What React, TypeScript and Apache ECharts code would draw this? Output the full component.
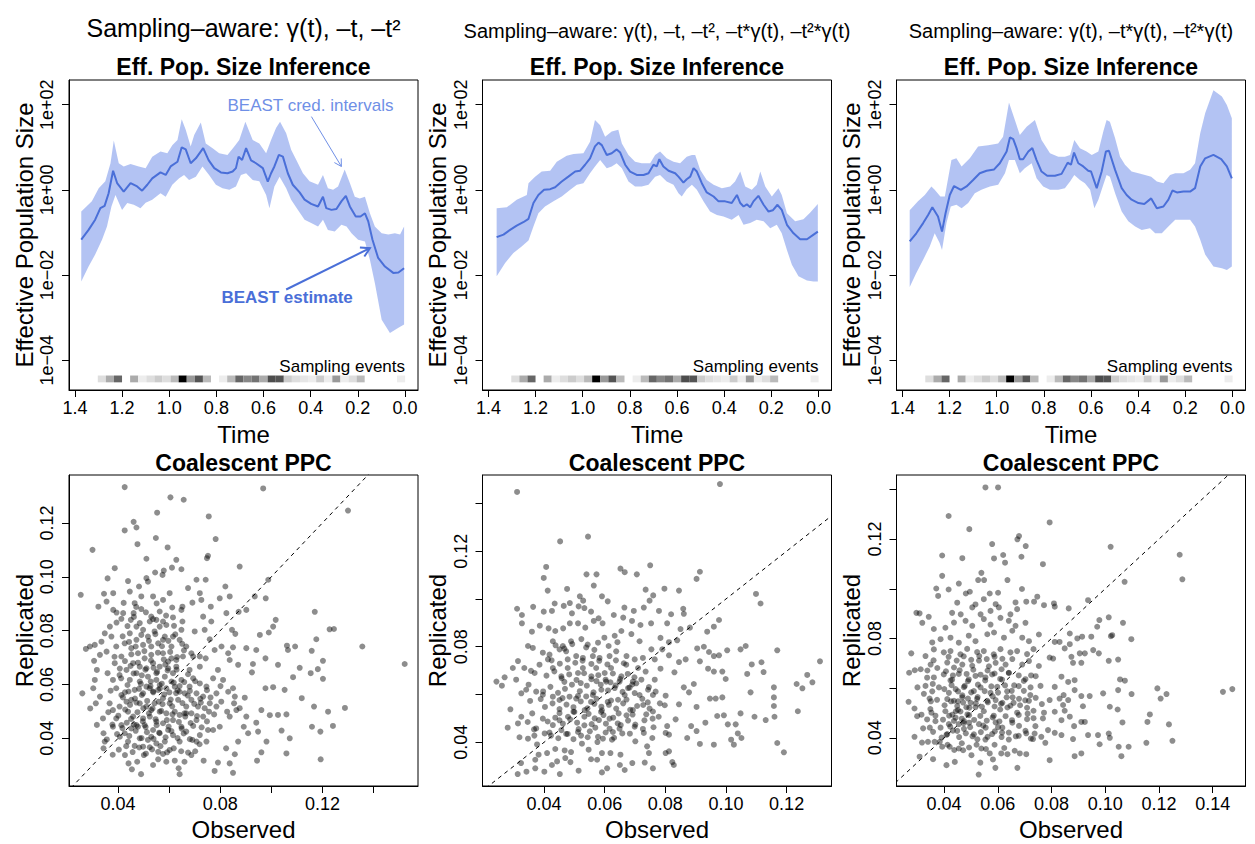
import React, { useEffect, useRef } from 'react';
import * as echarts from 'echarts';

const FONT = '"Liberation Sans", Arial, Helvetica, sans-serif';
const BLUE = '#4A6FD8';
const BAND = 'rgba(65,105,225,0.40)';
const CRED_BLUE = '#6F8FE6';

// ---------- Top row: effective population size (time, log10 Ne) ----------
const TIME_TICKS = [0, 0.2, 0.4, 0.6, 0.8, 1.0, 1.2, 1.4];
const NE_TICKS = [-4, -2, 0, 2]; // log10 values: 1e-04 .. 1e+02

const median1 = [[1.373,-1.17],[1.342,-0.94],[1.314,-0.70],[1.292,-0.43],[1.274,-0.375],[1.257,-0.08],[1.238,0.45],[1.221,0.16],[1.193,-0.04],[1.164,0.16],[1.136,0.08],[1.115,-0.02],[1.093,0.12],[1.072,0.27],[1.037,0.41],[1.015,0.35],[0.994,0.55],[0.965,0.66],[0.947,1.0],[0.930,0.95],[0.909,0.625],[0.887,0.74],[0.856,0.98],[0.833,0.70],[0.809,0.51],[0.781,0.41],[0.753,0.39],[0.731,0.43],[0.717,0.51],[0.706,0.78],[0.691,0.70],[0.674,0.98],[0.653,0.69],[0.632,0.625],[0.603,0.51],[0.582,0.195],[0.568,0.39],[0.554,0.55],[0.535,0.82],[0.518,0.78],[0.497,0.39],[0.476,0.12],[0.447,-0.06],[0.426,-0.23],[0.398,-0.33],[0.369,-0.39],[0.348,-0.16],[0.334,-0.43],[0.312,-0.47],[0.291,-0.45],[0.270,-0.27],[0.251,-0.14],[0.234,-0.39],[0.209,-0.625],[0.189,-0.625],[0.170,-0.55],[0.156,-0.74],[0.138,-1.17],[0.114,-1.60],[0.085,-1.80],[0.050,-1.95],[0.028,-1.94],[0.004,-1.84]];
const upper1 = [[1.373,-0.51],[1.328,-0.27],[1.299,0.04],[1.271,0.20],[1.249,0.625],[1.235,1.16],[1.214,0.625],[1.193,0.55],[1.164,0.61],[1.129,0.55],[1.100,0.51],[1.072,0.78],[1.037,0.90],[1.008,0.86],[0.987,1.05],[0.965,1.17],[0.947,1.66],[0.930,1.41],[0.909,1.02],[0.894,1.29],[0.866,1.58],[0.845,1.09],[0.816,0.98],[0.788,0.86],[0.753,0.82],[0.724,1.02],[0.703,1.17],[0.677,1.60],[0.646,1.17],[0.618,1.09],[0.589,0.86],[0.568,1.17],[0.547,1.45],[0.530,1.60],[0.504,1.33],[0.483,0.94],[0.461,0.70],[0.433,0.39],[0.405,0.20],[0.369,0.12],[0.348,0.35],[0.327,0.04],[0.305,0.0],[0.284,0.08],[0.256,0.48],[0.234,0.16],[0.213,-0.16],[0.192,-0.20],[0.170,-0.16],[0.149,-0.55],[0.128,-0.86],[0.099,-1.02],[0.071,-1.05],[0.043,-1.02],[0.021,-1.05],[0.004,-0.86]];
const lower1 = [[1.373,-2.15],[1.342,-1.80],[1.314,-1.52],[1.285,-1.17],[1.264,-0.86],[1.245,-0.39],[1.228,-0.12],[1.200,-0.47],[1.178,-0.31],[1.150,-0.35],[1.122,-0.43],[1.100,-0.30],[1.072,-0.23],[1.037,-0.08],[1.015,-0.16],[0.987,0.12],[0.958,0.27],[0.937,0.35],[0.916,0.23],[0.887,0.31],[0.859,0.55],[0.831,0.35],[0.802,0.12],[0.774,0.04],[0.745,0.0],[0.717,0.08],[0.696,0.35],[0.674,0.39],[0.646,0.23],[0.618,0.20],[0.589,-0.12],[0.575,-0.43],[0.554,0.08],[0.532,0.31],[0.504,0.04],[0.483,-0.23],[0.454,-0.47],[0.426,-0.70],[0.398,-0.78],[0.369,-0.86],[0.348,-0.70],[0.327,-0.94],[0.298,-0.98],[0.270,-0.82],[0.248,-0.86],[0.227,-1.02],[0.199,-1.17],[0.170,-1.21],[0.149,-1.64],[0.128,-2.19],[0.099,-3.05],[0.064,-3.36],[0.028,-3.24],[0.004,-3.16]];

const median2 = [[1.365,-1.11],[1.336,-1.05],[1.308,-0.94],[1.280,-0.84],[1.252,-0.76],[1.230,-0.68],[1.209,-0.31],[1.188,-0.12],[1.164,0.0],[1.138,0.016],[1.117,0.06],[1.089,0.195],[1.061,0.31],[1.032,0.43],[1.011,0.45],[0.990,0.59],[0.969,0.74],[0.948,1.02],[0.933,1.11],[0.919,1.05],[0.898,0.82],[0.877,0.86],[0.856,0.95],[0.841,0.875],[0.820,0.59],[0.799,0.43],[0.771,0.35],[0.742,0.35],[0.721,0.39],[0.700,0.59],[0.686,0.55],[0.675,0.72],[0.658,0.55],[0.636,0.45],[0.608,0.39],[0.594,0.31],[0.573,0.17],[0.559,0.25],[0.544,0.31],[0.530,0.51],[0.516,0.43],[0.495,0.156],[0.474,-0.06],[0.445,-0.156],[0.424,-0.27],[0.396,-0.27],[0.368,-0.31],[0.346,-0.12],[0.332,-0.31],[0.318,-0.39],[0.304,-0.34],[0.290,-0.41],[0.276,-0.27],[0.255,-0.14],[0.233,-0.35],[0.212,-0.51],[0.194,-0.48],[0.174,-0.35],[0.156,-0.47],[0.134,-0.82],[0.106,-1.02],[0.078,-1.16],[0.049,-1.16],[0.021,-1.05],[0.003,-0.98]];
const upper2 = [[1.365,-0.43],[1.322,-0.41],[1.280,-0.23],[1.237,-0.12],[1.230,0.156],[1.202,0.31],[1.174,0.43],[1.138,0.45],[1.110,0.66],[1.068,0.80],[1.039,0.84],[0.997,0.86],[0.969,1.13],[0.948,1.64],[0.926,1.52],[0.905,1.25],[0.877,1.37],[0.849,1.41],[0.834,1.09],[0.806,0.82],[0.778,0.66],[0.750,0.625],[0.714,0.625],[0.693,0.82],[0.672,0.90],[0.644,0.74],[0.615,0.66],[0.587,0.625],[0.559,0.78],[0.537,0.82],[0.523,0.82],[0.502,0.47],[0.474,0.23],[0.445,0.12],[0.410,0.04],[0.375,0.08],[0.354,0.195],[0.332,0.43],[0.311,0.08],[0.283,0.0],[0.262,0.12],[0.247,0.43],[0.226,0.08],[0.198,-0.156],[0.170,0.04],[0.156,-0.12],[0.134,-0.55],[0.099,-0.74],[0.064,-0.69],[0.035,-0.53],[0.003,-0.33]];
const lower2 = [[1.365,-2.03],[1.329,-1.72],[1.294,-1.48],[1.259,-1.33],[1.230,-1.19],[1.209,-0.86],[1.188,-0.55],[1.160,-0.39],[1.124,-0.27],[1.089,-0.156],[1.053,0.0],[1.025,0.12],[0.997,0.156],[0.969,0.39],[0.948,0.55],[0.926,0.70],[0.898,0.51],[0.877,0.55],[0.856,0.625],[0.834,0.51],[0.806,0.195],[0.778,0.08],[0.750,0.08],[0.721,0.12],[0.693,0.31],[0.672,0.35],[0.644,0.195],[0.615,0.12],[0.594,-0.08],[0.580,-0.156],[0.559,0.016],[0.537,0.12],[0.516,0.0],[0.488,-0.27],[0.460,-0.51],[0.431,-0.59],[0.403,-0.625],[0.368,-0.70],[0.339,-0.59],[0.318,-0.82],[0.290,-0.78],[0.262,-0.70],[0.233,-0.74],[0.205,-0.90],[0.177,-0.82],[0.156,-1.02],[0.134,-1.41],[0.113,-1.76],[0.085,-2.03],[0.049,-2.13],[0.021,-2.15],[0.003,-2.15]];

const median3 = [[1.369,-1.21],[1.341,-1.02],[1.312,-0.78],[1.291,-0.59],[1.273,-0.41],[1.249,-0.625],[1.232,-0.98],[1.217,-0.55],[1.199,-0.12],[1.181,0.09],[1.152,0.0],[1.128,0.08],[1.100,0.23],[1.072,0.39],[1.043,0.45],[1.011,0.48],[0.987,0.625],[0.958,0.90],[0.944,1.23],[0.930,1.19],[0.916,0.98],[0.902,0.72],[0.888,0.72],[0.866,0.90],[0.849,0.98],[0.831,0.70],[0.810,0.43],[0.786,0.33],[0.753,0.33],[0.725,0.375],[0.699,0.64],[0.685,0.59],[0.672,0.875],[0.654,0.625],[0.633,0.55],[0.612,0.45],[0.600,0.43],[0.576,0.04],[0.555,0.43],[0.537,0.90],[0.524,0.92],[0.498,0.47],[0.470,0.04],[0.449,-0.12],[0.428,-0.23],[0.399,-0.31],[0.374,-0.33],[0.345,-0.20],[0.321,-0.43],[0.293,-0.39],[0.272,-0.23],[0.255,-0.016],[0.236,-0.06],[0.208,-0.04],[0.180,-0.04],[0.159,0.04],[0.137,0.55],[0.116,0.74],[0.081,0.82],[0.048,0.72],[0.024,0.55],[0.003,0.27]];
const upper3 = [[1.369,-0.48],[1.334,-0.27],[1.305,-0.12],[1.277,0.08],[1.263,0.0],[1.239,-0.156],[1.220,-0.156],[1.192,0.70],[1.171,0.74],[1.149,0.55],[1.114,0.74],[1.079,1.02],[1.036,1.05],[0.994,1.09],[0.973,1.25],[0.948,2.05],[0.923,1.64],[0.902,1.29],[0.873,1.48],[0.838,1.64],[0.810,1.17],[0.774,0.86],[0.739,0.78],[0.711,0.78],[0.689,0.82],[0.671,1.17],[0.647,0.98],[0.619,0.90],[0.597,0.82],[0.569,0.90],[0.548,1.37],[0.534,1.64],[0.520,1.60],[0.498,1.21],[0.477,0.78],[0.456,0.59],[0.428,0.43],[0.399,0.39],[0.371,0.35],[0.345,0.31],[0.321,0.195],[0.293,0.156],[0.265,0.35],[0.243,0.39],[0.208,0.39],[0.180,0.47],[0.159,0.625],[0.137,1.33],[0.116,1.80],[0.081,2.34],[0.045,2.19],[0.024,1.99],[0.003,1.68]];
const lower3 = [[1.369,-2.28],[1.341,-1.95],[1.312,-1.64],[1.284,-1.33],[1.263,-1.02],[1.242,-1.25],[1.232,-1.41],[1.213,-0.78],[1.195,-0.39],[1.171,-0.35],[1.149,-0.43],[1.121,-0.31],[1.093,-0.08],[1.065,0.0],[1.029,0.08],[0.994,0.12],[0.965,0.39],[0.948,0.70],[0.923,0.70],[0.902,0.39],[0.881,0.51],[0.852,0.625],[0.831,0.27],[0.803,0.08],[0.774,0.0],[0.739,0.0],[0.711,0.04],[0.689,0.195],[0.671,0.35],[0.647,0.23],[0.626,0.156],[0.604,0.0],[0.586,-0.43],[0.569,-0.23],[0.548,0.12],[0.534,0.35],[0.520,0.31],[0.498,-0.08],[0.470,-0.51],[0.442,-0.74],[0.413,-0.86],[0.385,-0.94],[0.350,-0.90],[0.328,-1.02],[0.300,-1.02],[0.272,-0.86],[0.243,-0.70],[0.208,-0.70],[0.180,-0.70],[0.159,-0.86],[0.137,-1.17],[0.116,-1.52],[0.081,-1.80],[0.045,-1.84],[0.024,-1.88],[0.003,-1.80]];

// Sampling events: darkness (0 = none, 1 = most) of each time bin, from oldest (t = 1.303) to t = 0
const SAMPLING_START = 1.303;
const SAMPLING_STEP = 0.0343;
const samplingDensity = [0.13,0.33,0.6,0,0.33,0.07,0.13,0.2,0.13,0.27,1.0,0.4,0.67,0.27,0,0.07,0.27,0.6,0.47,0.55,0.33,0.7,0.67,0.2,0.13,0.1,0.07,0.2,0.07,0.4,0.07,0.13,0.27,0,0,0,0,0.07];
const STRIP_TOP = -4.36;
const STRIP_BOTTOM = -4.52;

// Annotations (panel 1), in (time, log10 Ne)
const credLabel = [0.401, 1.97];
const credArrow = [[0.397, 1.72], [0.27, 0.55]];
const estLabel = [0.50, -2.53];
const estArrow = [[0.504, -2.34], [0.149, -1.37]];

// ---------- Bottom row: coalescent posterior predictive check (observed, replicated) ----------
const ppc1 = [[.0426,.1333],[.0968,.1328],[.0605,.1295],[.0657,.1286],[.130,.1246],[.0553,.1238],[.0755,.1224],[.0461,.1204],[.0426,.1172],[.0472,.1183],[.030,.110],[.0548,.1144],[.0782,.114],[.0476,.1121],[.0594,.1109],[.0748,.1069],[.0752,.1078],[.0876,.1038],[.0511,.1067],[.0628,.1063],[.0387,.1032],[.0611,.1034],[.0648,.1028],[.0579,.1023],[.0545,.1016],[.0359,.0994],[.0511,.0995],[.0574,.1007],[.0988,.0989],[.0254,.0933],[.0439,.0984],[.0482,.0964],[.0674,.0958],[.0707,.0989],[.0743,.0989],[.082,.0964],[.0935,.0927],[.0978,.092],[.0902,.0877],[.0872,.087],[.0837,.0927],[.0798,.092],[.0824,.0865],[.0763,.0889],[.0726,.0914],[.072,.0939],[.0691,.0904],[.0652,.0889],[.1017,.084],[.1007,.0815],[.099,.0793],[.0955,.0784],[.0846,.0803],[.0859,.0788],[.117,.087],[.1228,.0805],[.1245,.0806],[.1176,.0768],[.1356,.0741],[.1061,.0744],[.1093,.0741],[.1065,.0728],[.1158,.0725],[.1522,.0676],[.1202,.0688],[.1182,.0657],[.1154,.0642],[.1111,.0662],[.1085,.0627],[.1026,.0673],[.0928,.0676],[.0924,.0645],[.0977,.0697],[.0902,.0735],[.0941,.0728],[.1202,.0621],[.1119,.0549],[.1167,.0518],[.1288,.0513],[.1222,.0499],[.1159,.0443],[.1192,.0425],[.1241,.0446],[.1193,.0322],[.1059,.0344],[.1072,.040],[.104,.0429],[.1026,.0487],[.0994,.0486],[.1059,.0489],[.1052,.058],[.1007,.059],[.0977,.0586],[.0961,.0505],[.0981,.0388],[.0948,.0425],[.0909,.0419],[.0892,.0443],[.0902,.0481],[.0941,.0458],[.0961,.0348],[.0944,.0317],[.0857,.0341],[.087,.0388],[.085,.0272],[.0837,.0307],[.0791,.031],[.0778,.0279],[.0735,.0317],[.0823,.0363],[.0772,.0431],[.0798,.0443],[.0837,.0481],[.0863,.0505],[.0876,.0512],[.0857,.0555],[.0896,.0551],[.085,.0586],[.0831,.0573],[.0801,.0594],[.0772,.0623],[.0811,.0617],[.0785,.0567],[.0746,.0592],[.0791,.0654],[.0837,.0691],[.087,.0673],[.0831,.0716],[.0805,.0741],[.085,.0738],[.0778,.0728],[.0743,.0697],[.072,.0666],[.0674,.0638],[.0759,.0768],[.0739,.0803],[.07,.0797],[.0733,.0852],[.0765,.0834],[.0615,.0849],[.0652,.0834],[.0648,.0877],[.0602,.0939],[.0576,.0914],[.0537,.0927],[.0517,.0982],[.0491,.0927],[.0465,.0902],[.0446,.0945],[.0381,.0939],[.0345,.0937],[.0355,.0908],[.0323,.0889],[.0381,.0877],[.0394,.0867],[.042,.0865],[.0461,.0865],[.0491,.088],[.053,.0852],[.0563,.0871],[.0524,.0834],[.0485,.0828],[.045,.084],[.0394,.083],[.0368,.0815],[.0348,.079],[.0374,.0778],[.0335,.0759],[.0309,.0747],[.029,.0741],[.0274,.0732],[.0355,.0722],[.0329,.071],[.0306,.0688],[.0317,.0654],[.0309,.0617],[.0303,.0586],[.0329,.0555],[.0313,.053],[.026,.0567],[.0291,.0511],[.0317,.045],[.0341,.0474],[.0343,.0419],[.0348,.0388],[.0343,.0363],[.0379,.0339],[.0427,.0338],[.0441,.0307],[.0454,.0285],[.049,.0267],[.0475,.0313],[.0501,.0338],[.0537,.0301],[.0524,.0367],[.0557,.0322],[.0576,.0342],[.0589,.0313],[.0622,.0317],[.0637,.0289],[.0641,.0267],[.066,.0313],[.0674,.0347],[.0687,.0338],[.0707,.0388],[.0691,.0394],[.072,.0412],[.0694,.0446],[.0733,.0481],[.0713,.0518],[.0756,.0499],[.0667,.0493],[.0641,.0487],[.0615,.0468],[.0596,.0431],[.0615,.0412],[.0641,.0388],[.0583,.0388],[.0563,.0419],[.0537,.0431],[.055,.0462],[.0524,.0481],[.0498,.0474],[.0478,.0443],[.0452,.0437],[.0426,.0419],[.0439,.0388],[.0407,.0406],[.0465,.0372],[.0498,.0369],[.0393,.0474],[.038,.0505],[.0367,.053],[.0406,.0518],[.0433,.0536],[.0413,.0561],[.0393,.0586],[.038,.0617],[.0406,.0635],[.0433,.0654],[.0387,.0679],[.0413,.0704],[.0393,.0741],[.0426,.0753],[.0452,.0735],[.0472,.0766],[.0446,.079],[.0472,.0815],[.0498,.0803],[.0517,.0778],[.0543,.0797],[.0563,.0815],[.0589,.0821],[.0583,.0778],[.0557,.0753],[.053,.0741],[.0498,.0747],[.0478,.0716],[.0504,.0697],[.053,.071],[.0576,.0716],[.0609,.0741],[.0641,.0766],[.0667,.0741],[.0654,.0704],[.0628,.0691],[.0596,.0685],[.0563,.0666],[.0537,.0679],[.0511,.066],[.0485,.0666],[.0459,.0679],[.0472,.0642],[.0446,.0617],[.0485,.0611],[.0517,.0629],[.055,.0617],[.0583,.0629],[.0615,.0642],[.0648,.0617],[.0622,.0592],[.0589,.0586],[.0557,.058],[.0524,.0586],[.0498,.0567],[.0465,.058],[.0452,.0543],[.0485,.053],[.0511,.0518],[.0543,.053],[.0576,.0549],[.0602,.053],[.0635,.0543],[.0661,.0567],[.0687,.0543],[.0707,.0567],[.072,.0604],[.0694,.0623],[.068,.0592],[.0667,.0518],[.0622,.0499],[.0589,.0493],[.0563,.0499],[.053,.0505],[.0504,.0449],[.053,.0406],[.0485,.04],[.0413,.0449],[.038,.0443],[.0733,.0555],[.0759,.053],[.0739,.0512],[.0707,.0468],[.0752,.0431],[.0746,.0388],[.0667,.0425],[.0648,.0443],[.0576,.0456],[.0459,.0481],[.0439,.0499],[.0537,.0574],[.0563,.0598],[.0596,.066],[.0628,.0666],[.055,.0642],[.0511,.0592],[.0609,.0611],[.0641,.0573],[.0472,.0449],[.0517,.0394],[.055,.0381],[.0602,.0357],[.0557,.035],[.0615,.0778],[.0648,.0803],[.0576,.0834],[.055,.084],[.0609,.0697],[.0576,.0766],[.072,.0704],[.0694,.0704],[.068,.0654],[.066,.0493],[.0687,.0493],[.0785,.0518],[.0804,.0536],[.0827,.0499],[.0854,.053]];
const ppc1Core = [[.0412,.0623],[.0437,.0598],[.0461,.0641],[.0489,.0602],[.0507,.0655],[.0528,.0611],[.0553,.0647],[.0571,.0603],[.0594,.0652],[.0618,.0607],[.0633,.0578],[.0659,.0609],[.0681,.0576],[.0702,.0612],[.0419,.0552],[.0441,.0574],[.0466,.0548],[.0493,.0561],[.0514,.0539],[.0538,.0571],[.0559,.0536],[.0581,.0563],[.0606,.0544],[.0627,.0568],[.0652,.0531],[.0673,.0559],[.0698,.0528],[.0722,.0547],[.0401,.0484],[.0428,.0507],[.0451,.0472],[.0476,.0497],[.0497,.0463],[.0521,.0493],[.0547,.0471],[.0569,.0502],[.0591,.0468],[.0613,.0489],[.0638,.0461],[.0663,.0481],[.0684,.0457],[.0709,.0483],[.0396,.0416],[.0417,.0438],[.0444,.0409],[.0469,.0428],[.0492,.0401],[.0513,.0423],[.0539,.0398],[.0561,.0421],[.0586,.0404],[.0609,.0427],[.0633,.0401],[.0657,.0418],[.0681,.0397],[.0403,.0358],[.0432,.0371],[.0457,.0349],[.0483,.0366],[.0509,.0343],[.0533,.0359],[.0566,.0371],[.0592,.0348],[.0618,.0363],[.0647,.0352],[.0371,.0577],[.0359,.0642],[.0386,.0703],[.0362,.0497],[.0378,.0451],[.0356,.0396],[.0427,.0687],[.0452,.0712],[.0478,.0681],[.0503,.0724],[.0529,.0689],[.0556,.0718],[.0579,.0693],[.0604,.0721],[.0631,.0702],[.0658,.0727],[.0687,.0716],[.0418,.0779],[.0443,.0758],[.0469,.0741],[.0491,.0784],[.0521,.0762],[.0546,.0787],[.0572,.0742],[.0597,.0762],[.0624,.0786],[.0651,.0751],[.0413,.0844],[.0437,.0817],[.0462,.0851],[.0509,.0868],[.0537,.0843],[.0588,.0856],[.0619,.0818],[.0422,.0903],[.0471,.0888],[.0551,.0901],[.0612,.0886],[.0724,.0533],[.0748,.0579],[.0762,.0552],[.0727,.0441],[.0748,.0463],[.0776,.0489],[.0702,.0352],[.0719,.0378],[.0447,.0524],[.0472,.0533],[.0499,.0512],[.0535,.0511],[.0574,.0527],[.0612,.0519],[.0434,.0458],[.0462,.0451],[.0508,.0442],[.0551,.0449],[.0598,.0444],[.0649,.0436],[.0427,.0571],[.0482,.0584],[.0527,.0594],[.0564,.0585],[.0601,.0571],[.0641,.0594],[.0407,.0659],[.0449,.0669],[.0493,.0634],[.0539,.0662],[.0585,.0674],[.0629,.0655]];

const ppc2 = [[.0311,.1448],[.098,.1481],[.0453,.1241],[.0545,.1261],[.075,.1141],[.0407,.1134],[.0652,.1127],[.0666,.1112],[.0573,.1103],[.054,.1103],[.0706,.1103],[.0914,.1114],[.0903,.1084],[.0399,.1088],[.0564,.1056],[.0412,.1035],[.0476,.1042],[.0735,.1039],[.0797,.1043],[.0845,.1035],[.1099,.1021],[.1114,.0981],[.076,.1015],[.0748,.0993],[.0591,.1011],[.061,.099],[.0518,.1011],[.0529,.0993],[.0435,.0981],[.0465,.0971],[.0485,.0983],[.0311,.0959],[.0364,.0967],[.0327,.0933],[.0399,.0947],[.0426,.095],[.0492,.094],[.0514,.0969],[.0533,.0962],[.0555,.0947],[.058,.0919],[.0665,.0964],[.0696,.095],[.0729,.0964],[.0779,.095],[.0819,.0936],[.0859,.0959],[.0861,.0938],[.0327,.0898],[.036,.0863],[.0386,.0888],[.0415,.0877],[.0437,.0866],[.0463,.0877],[.0485,.0898],[.0512,.0898],[.0536,.088],[.0564,.0908],[.0593,.0898],[.063,.0933],[.0661,.0922],[.069,.0908],[.0718,.0891],[.0753,.0898],[.0806,.0898],[.085,.0874],[.0881,.088],[.0938,.0863],[.096,.0884],[.0977,.0912],[.1065,.0803],[.1085,.0726],[.1117,.0735],[.1124,.0694],[.1169,.0785],[.1158,.063],[.1158,.0588],[.1158,.0552],[.116,.0507],[.1131,.0493],[.1094,.0507],[.1169,.0397],[.1191,.0358],[.1233,.0644],[.1252,.0626],[.1268,.0682],[.1285,.0651],[.131,.0739],[.1237,.053],[.107,.0686],[.1081,.0609],[.1048,.0789],[.1004,.0785],[.0977,.0764],[.096,.0761],[.0944,.0778],[.0927,.08],[.0905,.0793],[.0914,.0739],[.0941,.0708],[.096,.0696],[.0988,.0696],[.0999,.0665],[.0947,.0583],[.0966,.0583],[.0988,.0588],[.0971,.051],[.0993,.0513],[.1006,.0475],[.1032,.0475],[.1048,.0521],[.1039,.0437],[.1017,.0411],[.1026,.039],[.1051,.0418],[.096,.039],[.0914,.0393],[.0932,.0482],[.0903,.0447],[.0872,.0418],[.0885,.0468],[.0903,.0548],[.0878,.0609],[.0894,.0644],[.0861,.063],[.083,.0693],[.0845,.0736],[.0867,.0747],[.0812,.0764],[.079,.0789],[.0812,.0819],[.0839,.0827],[.0784,.0837],[.0784,.0708],[.0801,.0595],[.0845,.0559],[.0834,.0496],[.0806,.0468],[.0801,.0439],[.0812,.0432],[.0801,.0355],[.0812,.0362],[.0823,.0317],[.0828,.0305],[.0759,.0291],[.0746,.0355],[.074,.0383],[.0757,.0418],[.0732,.0315],[.0729,.0439],[.0701,.0404],[.0691,.0313],[.0666,.0284],[.065,.0305],[.0652,.0348],[.0624,.0411],[.0619,.0355],[.0591,.0355],[.0575,.0327],[.0608,.0291],[.0591,.0274],[.0555,.0329],[.0547,.0369],[.0514,.0281],[.0487,.0317],[.047,.0334],[.0452,.0267],[.0443,.032],[.0401,.0277],[.0426,.0305],[.0371,.0291],[.0342,.0277],[.0313,.0267],[.0324,.0313],[.0371,.0327],[.0382,.0348],[.041,.0355],[.0437,.0372],[.0468,.0366],[.0489,.0359],[.0525,.0394],[.0544,.0421],[.0576,.0401],[.0594,.0415],[.0627,.0443],[.0649,.0457],[.0683,.0436],[.0699,.0465],[.0731,.0492],[.0758,.0499],[.0778,.0507],[.0748,.0541],[.0727,.0556],[.0693,.0535],[.0672,.0513],[.0643,.0479],[.0616,.0499],[.0588,.0527],[.0567,.05],[.0533,.0471],[.0512,.0443],[.0478,.0435],[.0457,.0451],[.0423,.0428],[.0402,.0437],[.0368,.0428],[.0347,.0415],[.0319,.0421],[.0314,.0479],[.028,.0461],[.0289,.0538],[.0325,.0507],[.0346,.0485],[.0374,.0458],[.0396,.0499],[.0429,.0472],[.0451,.0492],[.0479,.0507],[.05,.0527],[.0534,.0535],[.0555,.0569],[.0589,.0549],[.061,.0569],[.0644,.0578],[.0666,.0598],[.0699,.0606],[.0715,.0598],[.0743,.062],[.0759,.0598],[.0782,.0563],[.0798,.0555],[.0765,.0662],[.0735,.0696],[.0721,.0662],[.0693,.0654],[.0677,.0627],[.0649,.0654],[.0633,.0627],[.0605,.0654],[.0589,.062],[.0561,.0598],[.0539,.0592],[.0506,.0583],[.0484,.0591],[.0451,.0577],[.0429,.0591],[.0396,.0599],[.0374,.0612],[.0341,.062],[.0325,.0605],[.0308,.0662],[.0297,.0711],[.0261,.0637],[.0243,.0654],[.027,.0672],[.0314,.074],[.0335,.0711],[.0369,.069],[.0385,.0725],[.0413,.0747],[.0429,.0711],[.0457,.0676],[.0478,.0711],[.0512,.069],[.0528,.0711],[.0556,.0676],[.0572,.0711],[.06,.069],[.0621,.0711],[.0655,.0676],[.0671,.0725],[.0699,.0747],[.071,.0711],[.0672,.0761],[.0638,.0781],[.0616,.0761],[.0583,.0753],[.0561,.0761],[.0528,.0753],[.0506,.0761],[.0473,.0781],[.0451,.0789],[.0418,.0767],[.0396,.0775],[.0363,.0795],[.0347,.0803],[.0429,.0823],[.0462,.0803],[.0489,.0823],[.0523,.0832],[.0544,.0809],[.0578,.0817],[.0599,.0838],[.0633,.0846],[.0655,.0866],[.0688,.0853],[.0715,.0823],[.0754,.0789],[.0726,.0753],[.0765,.0747]];
const ppc2Core = [[.0403,.0548],[.0428,.0563],[.0451,.0539],[.0474,.0558],[.0497,.0547],[.0521,.0571],[.0543,.0542],[.0566,.0561],[.0591,.0534],[.0614,.0557],[.0638,.0541],[.0661,.0563],[.0684,.0536],[.0707,.0552],[.0397,.0613],[.0421,.0632],[.0446,.0607],[.0469,.0624],[.0492,.0641],[.0518,.0614],[.0541,.0637],[.0563,.0609],[.0587,.0641],[.0611,.0617],[.0636,.0638],[.0659,.0611],[.0682,.0629],[.0704,.0647],[.0408,.0679],[.0434,.0697],[.0458,.0668],[.0483,.0684],[.0507,.0661],[.0532,.0689],[.0556,.0664],[.0579,.0681],[.0603,.0662],[.0627,.0688],[.0651,.0665],[.0676,.0686],[.0698,.0672],[.0412,.0487],[.0437,.0503],[.0462,.0478],[.0486,.0496],[.0509,.0482],[.0533,.0507],[.0557,.0476],[.0581,.0493],[.0604,.0478],[.0628,.0503],[.0653,.0472],[.0677,.0491],[.0701,.0474],[.0418,.0441],[.0447,.0417],[.0473,.0435],[.0497,.0413],[.0522,.0428],[.0551,.0446],[.0578,.0423],[.0603,.0441],[.0631,.0419],[.0658,.0437],[.0425,.0743],[.0452,.0729],[.0478,.0747],[.0503,.0733],[.0527,.0742],[.0556,.0728],[.0582,.0741],[.0609,.0726],[.0637,.0743],[.0663,.0731],[.0438,.0806],[.0467,.0792],[.0493,.0811],[.0539,.0797],[.0566,.0787],[.0613,.0803],[.0642,.0819],[.0354,.0573],[.0361,.0521],[.0349,.0641],[.0367,.0454],[.0377,.0391],[.0357,.0699],[.0724,.0582],[.0742,.0567],[.0737,.0517],[.0759,.0529],[.0726,.0456],[.0761,.0463],[.0746,.0631],[.0768,.0612],[.0389,.0581],[.0461,.0585],[.0512,.0594],[.0573,.0582],[.0621,.0575],[.0672,.0579],[.0451,.0522],[.0497,.0528],[.0547,.0519],[.0596,.0514],[.0646,.0521],[.0692,.0516],[.0467,.0653],[.0521,.0648],[.0573,.0656],[.0619,.0651],[.0691,.0642],[.0514,.0455],[.0569,.0461],[.0616,.0457]];

const ppc3 = [[.0554,.1408],[.0601,.1408],[.0417,.1293],[.0793,.1267],[.0494,.124],[.0679,.1212],[.0673,.1199],[.0704,.1172],[.102,.1169],[.1277,.1137],[.1287,.1038],[.0393,.1134],[.0468,.1123],[.0579,.118],[.062,.1136],[.0627,.1105],[.0586,.1122],[.0688,.1129],[.0768,.1099],[.0393,.1052],[.0539,.1064],[.0455,.1021],[.0371,.1001],[.0417,.0997],[.0378,.0971],[.0481,.0981],[.0496,.0988],[.0527,.1035],[.0549,.1035],[.057,.0981],[.0601,.0984],[.0636,.1035],[.069,.0999],[.0747,.0968],[.0735,.0948],[.0706,.0948],[.0772,.0934],[.0809,.0941],[.0812,.0928],[.0864,.0921],[.0936,.0954],[.1072,.1028],[.0297,.0903],[.0309,.0901],[.0343,.0887],[.0319,.0863],[.0278,.074],[.027,.0662],[.0291,.0672],[.0268,.0545],[.029,.0518],[.03,.0487],[.029,.0404],[.0318,.0381],[.0309,.0324],[.0359,.0314],[.0409,.029],[.044,.0303],[.0529,.0252],[.0535,.03],[.0591,.0279],[.0673,.0279],[.0793,.031],[.0886,.0326],[.0911,.0337],[.0979,.0374],[.105,.0364],[.106,.0326],[.1087,.0364],[.1153,.038],[.125,.0388],[.1237,.0454],[.1166,.0494],[.1157,.0464],[.1206,.0558],[.1194,.0599],[.1228,.0576],[.1438,.0585],[.1473,.0596],[.1098,.0576],[.1073,.063],[.1055,.0635],[.1046,.0514],[.1064,.0462],[.1017,.0525],[.0992,.0579],[.1048,.0592],[.1048,.0715],[.1013,.071],[.1021,.0809],[.1026,.0813],[.1013,.0885],[.1066,.0863],[.1097,.0797],[.0978,.0874],[.097,.0847],[.0948,.0807],[.0976,.074],[.0955,.0753],[.0942,.0568],[.0917,.0527],[.0911,.0568],[.0886,.0592],[.0862,.0625],[.0886,.0632],[.0868,.0777],[.088,.0702],[.0911,.0702],[.0905,.074],[.0924,.074],[.0914,.0807],[.0896,.08],[.0874,.0726],[.0868,.082],[.0849,.076],[.083,.0786],[.0812,.0786],[.0806,.0719],[.0793,.0723],[.0837,.0646],[.0812,.0605],[.083,.0558],[.0812,.0505],[.0837,.0471],[.0812,.042],[.0837,.0411],[.088,.0395],[.0936,.0411],[.0973,.0411],[.1013,.0417],[.1017,.04],[.0911,.0464],[.0924,.0464],[.0884,.0447],[.0868,.0485],[.0849,.0509],[.0862,.0552],[.0845,.0572],[.0843,.0532],[.0793,.0552],[.0772,.0501],[.0768,.0478],[.0787,.0431],[.0762,.0404],[.0777,.038],[.0737,.0417],[.0723,.0397],[.0706,.0334],[.0682,.0337],[.0663,.0348],[.0636,.0334],[.0613,.0337],[.0582,.0313],[.057,.0337],[.0539,.0357],[.0502,.033],[.0471,.035],[.0455,.0357],[.0421,.0364],[.0393,.0364],[.0384,.0384],[.0365,.0384],[.034,.0384],[.0359,.0424],[.0391,.0401],[.0412,.0415],[.0449,.0428],[.0474,.0436],[.0511,.0414],[.0524,.0394],[.0554,.0393],[.0579,.0415],[.0616,.0421],[.0641,.0393],[.0678,.0408],[.0703,.0428],[.074,.0447],[.0709,.0475],[.0679,.0448],[.0654,.0461],[.0617,.0441],[.0592,.0462],[.0555,.0441],[.053,.0455],[.0493,.0461],[.0474,.0467],[.0437,.0468],[.0418,.0455],[.0387,.0441],[.0368,.0467],[.0337,.0474],[.0322,.0438],[.0316,.0493],[.0349,.0516],[.0368,.0489],[.0405,.0507],[.0431,.0493],[.0452,.0512],[.0493,.0491],[.0517,.0523],[.0548,.0507],[.0585,.0489],[.0609,.0514],[.0647,.0529],[.0672,.0501],[.0709,.0521],[.0733,.0509],[.0764,.0536],[.0741,.0561],[.0716,.0549],[.0679,.0557],[.0655,.0563],[.0617,.0541],[.0592,.0552],[.0561,.0549],[.0523,.0557],[.0499,.0541],[.0468,.0563],[.0437,.0549],[.0412,.0556],[.0374,.0553],[.0351,.0547],[.0325,.0577],[.0301,.0603],[.0331,.0609],[.0356,.0587],[.0381,.0603],[.0418,.0581],[.0443,.0596],[.0474,.0604],[.0511,.0588],[.0536,.0603],[.0573,.0581],[.0598,.0605],[.0635,.0587],[.0661,.0611],[.0697,.0589],[.0722,.0603],[.0759,.0609],[.0741,.0648],[.0703,.0636],[.0678,.0651],[.0641,.0662],[.0616,.0634],[.0579,.0655],[.0554,.0643],[.0517,.0649],[.0492,.0635],[.0455,.0657],[.043,.0634],[.0399,.0655],[.0362,.0643],[.0337,.0642],[.0313,.0676],[.035,.0695],[.0375,.0681],[.0412,.0703],[.0437,.0683],[.0468,.0695],[.0505,.069],[.053,.0711],[.0567,.0688],[.0592,.0702],[.0629,.0695],[.0654,.0717],[.0691,.0695],[.0716,.0709],[.0753,.0689],[.0733,.0757],[.0709,.0737],[.0672,.0749],[.0647,.0744],[.061,.0757],[.0585,.0736],[.0548,.0749],[.0523,.0745],[.0486,.0758],[.0461,.0736],[.0424,.0749],[.0399,.0744],[.0362,.0756],[.0331,.0729],[.0356,.0784],[.0387,.0797],[.0424,.0803],[.0455,.0783],[.0492,.0811],[.0517,.0789],[.0561,.0817],[.0586,.0824],[.0623,.0803],[.0654,.0831],[.0691,.0803],[.0716,.0789],[.0753,.0816],[.0362,.0838],[.0405,.0843],[.0437,.0864],[.048,.0871],[.0505,.0851],[.0548,.0878],[.0573,.0856],[.061,.0883],[.0641,.0871],[.0666,.0851],[.0703,.0863],[.043,.0903],[.0462,.0897],[.0505,.0925],[.0536,.0897],[.0573,.0911],[.0604,.0925],[.0647,.0897],[.0672,.0918],[.0449,.0944],[.0517,.0937],[.0548,.0958],[.0592,.0938],[.0666,.0945]];
const ppc3Core = [[.0402,.0531],[.0426,.0547],[.0449,.0528],[.0471,.0542],[.0494,.0521],[.0518,.0539],[.0541,.0525],[.0563,.0543],[.0588,.0526],[.0612,.0537],[.0636,.0522],[.0659,.0541],[.0683,.0531],[.0396,.0473],[.0419,.0489],[.0443,.0481],[.0466,.0477],[.0487,.0494],[.0512,.0472],[.0535,.0488],[.0559,.0469],[.0581,.0482],[.0606,.0466],[.0629,.0487],[.0653,.0471],[.0678,.0492],[.0409,.0412],[.0433,.0429],[.0456,.0403],[.0481,.0418],[.0506,.0406],[.0537,.0423],[.0562,.0404],[.0589,.0426],[.0614,.0403],[.0641,.0421],[.0667,.0406],[.0401,.0596],[.0428,.0612],[.0452,.0587],[.0477,.0609],[.0501,.0583],[.0526,.0614],[.0551,.0588],[.0576,.0607],[.0601,.0582],[.0627,.0611],[.0652,.0589],[.0678,.0608],[.0407,.0668],[.0433,.0651],[.0458,.0672],[.0484,.0657],[.0509,.0674],[.0536,.0654],[.0562,.0671],[.0588,.0659],[.0614,.0676],[.0641,.0661],[.0417,.0726],[.0447,.0711],[.0473,.0728],[.0501,.0714],[.0531,.0729],[.0559,.0717],[.0588,.0726],[.0617,.0718],[.0413,.0372],[.0438,.0351],[.0466,.0378],[.0493,.0361],[.0521,.0372],[.0556,.0355],[.0588,.0372],[.0624,.0359],[.0353,.0501],[.0346,.0558],[.0358,.0617],[.0347,.0441],[.0338,.0671],[.0361,.0712],[.0702,.0551],[.0721,.0572],[.0711,.0497],[.0733,.0479],[.0697,.0629],[.0724,.0651],[.0706,.0418],[.0731,.0395],[.0461,.0506],[.0483,.0523],[.0473,.0459],[.0455,.0455],[.0444,.0507],[.0452,.0547],[.0489,.0558],[.0468,.0571],[.0525,.0564],[.0581,.0567],[.0633,.0563],[.0423,.0445],[.0497,.0443],[.0546,.0449],[.0601,.0443],[.0424,.0631],[.0489,.0628],[.0553,.0631],[.0609,.0637]];

const ppcAxes = [
  { xMin: 0.0208, xMax: 0.1574, xTicks: [0.04, 0.06, 0.08, 0.10, 0.12, 0.14], xLabels: [0.04, 0.08, 0.12],
    yMin: 0.0223, yMax: 0.1378, yTicks: [0.04, 0.06, 0.08, 0.10, 0.12], yLabels: [0.04, 0.06, 0.08, 0.10, 0.12] },
  { xMin: 0.0197, xMax: 0.1348, xTicks: [0.04, 0.06, 0.08, 0.10, 0.12], xLabels: [0.04, 0.06, 0.08, 0.10, 0.12],
    yMin: 0.0217, yMax: 0.1519, yTicks: [0.04, 0.06, 0.08, 0.10, 0.12, 0.14], yLabels: [0.04, 0.08, 0.12] },
  { xMin: 0.0223, xMax: 0.1522, xTicks: [0.04, 0.06, 0.08, 0.10, 0.12, 0.14], xLabels: [0.04, 0.06, 0.08, 0.10, 0.12, 0.14],
    yMin: 0.0206, yMax: 0.1458, yTicks: [0.04, 0.06, 0.08, 0.10, 0.12, 0.14], yLabels: [0.04, 0.08, 0.12] },
];

const mainTitles = [
  { text: 'Sampling–aware: γ(t), –t, –t²', size: 25, y: 27.5 },
  { text: 'Sampling–aware: γ(t), –t, –t², –t*γ(t), –t²*γ(t)', size: 20, y: 31 },
  { text: 'Sampling–aware: γ(t), –t*γ(t), –t²*γ(t)', size: 20, y: 31 },
];

// ---------- layout ----------
const GRID_LEFTS = [69, 482.5, 896.5];
const GRID_W = 349;
const TOP_Y = 80, TOP_H = 310;
const BOT_Y = 475, BOT_H = 311;

const tops = [
  { median: median1, upper: upper1, lower: lower1 },
  { median: median2, upper: upper2, lower: lower2 },
  { median: median3, upper: upper3, lower: lower3 },
];
const ppcs = [[...ppc1, ...ppc1Core], [...ppc2, ...ppc2Core], [...ppc3, ...ppc3Core]];

function neLabel(v: number) {
  const e = Math.round(v);
  return '1e' + (e >= 0 ? '+' : '−') + String(Math.abs(e)).padStart(2, '0');
}

function arrowEls(p: number[], q: number[], color: string, width: number, head: number) {
  const ang = Math.atan2(q[1] - p[1], q[0] - p[0]);
  const a1 = ang + Math.PI - Math.PI / 6;
  const a2 = ang + Math.PI + Math.PI / 6;
  return [
    { type: 'line', shape: { x1: p[0], y1: p[1], x2: q[0], y2: q[1] }, style: { stroke: color, lineWidth: width } },
    {
      type: 'polyline',
      shape: { points: [[q[0] + head * Math.cos(a1), q[1] + head * Math.sin(a1)], [q[0], q[1]], [q[0] + head * Math.cos(a2), q[1] + head * Math.sin(a2)]] },
      style: { stroke: color, lineWidth: width, fill: 'none' },
    },
  ];
}

function axisCommon() {
  return {
    axisLine: { show: true, onZero: false, lineStyle: { color: '#000', width: 1 } },
    splitLine: { show: false },
    nameLocation: 'middle' as const,
    nameTextStyle: { fontSize: 24, color: '#000', fontFamily: FONT },
  };
}

function buildOption() {
  const grid: any[] = [];
  const xAxis: any[] = [];
  const yAxis: any[] = [];
  const series: any[] = [];
  const graphic: any[] = [];

  tops.forEach((d, i) => {
    grid.push({ left: GRID_LEFTS[i], top: TOP_Y, width: GRID_W, height: TOP_H, show: true, borderColor: '#000', borderWidth: 1, backgroundColor: 'transparent' });
    xAxis.push({
      ...axisCommon(), gridIndex: i, type: 'value', inverse: true, min: -0.055, max: 1.425,
      axisTick: { show: true, length: 7, customValues: TIME_TICKS, lineStyle: { color: '#000' } },
      axisLabel: { customValues: TIME_TICKS, formatter: (v: number) => v.toFixed(1), fontSize: 18, color: '#000', margin: 9, fontFamily: FONT },
      name: 'Time', nameGap: 32,
    });
    yAxis.push({
      ...axisCommon(), gridIndex: i, type: 'value', min: -4.70, max: 2.58,
      axisTick: { show: true, length: 7, customValues: NE_TICKS, lineStyle: { color: '#000' } },
      axisLabel: { customValues: NE_TICKS, rotate: 90, formatter: neLabel, fontSize: 18, color: '#000', margin: 13, fontFamily: FONT },
      name: 'Effective Population Size', nameGap: 33,
    });
    series.push({
      type: 'custom', xAxisIndex: i, yAxisIndex: i, silent: true, z: 1,
      data: [d.median[0]],
      renderItem: (_p: any, api: any) => {
        const pts = [...d.upper.map((p) => api.coord(p)), ...d.lower.slice().reverse().map((p) => api.coord(p))];
        return { type: 'polygon', shape: { points: pts }, style: { fill: BAND } };
      },
    });
    series.push({
      type: 'line', xAxisIndex: i, yAxisIndex: i, data: d.median, showSymbol: false, symbol: 'none', z: 3,
      lineStyle: { color: BLUE, width: 2 }, silent: true,
    });
    series.push({
      type: 'custom', xAxisIndex: i, yAxisIndex: i, silent: true, z: 2,
      data: samplingDensity.map((v, k) => [SAMPLING_START - k * SAMPLING_STEP, STRIP_TOP, v]),
      renderItem: (_p: any, api: any) => {
        const t0 = api.value(0);
        const v = api.value(2);
        if (!(v > 0)) return null;
        const a = api.coord([t0, STRIP_TOP]);
        const b = api.coord([t0 - SAMPLING_STEP, STRIP_BOTTOM]);
        const g = Math.round(255 * (1 - v));
        return {
          type: 'rect',
          shape: { x: Math.min(a[0], b[0]), y: Math.min(a[1], b[1]), width: Math.abs(b[0] - a[0]), height: Math.abs(b[1] - a[1]) },
          style: { fill: `rgb(${g},${g},${g})` },
        };
      },
    });
    series.push({
      type: 'custom', xAxisIndex: i, yAxisIndex: i, silent: true, z: 4,
      data: [[0, -4.15]],
      renderItem: (_p: any, api: any) => {
        const c = api.coord([api.value(0), api.value(1)]);
        return { type: 'text', x: c[0], y: c[1], style: { text: 'Sampling events', fontSize: 17, fontFamily: FONT, fill: '#000', align: 'right', verticalAlign: 'middle' } };
      },
    });
    graphic.push({
      type: 'text', x: GRID_LEFTS[i] + GRID_W / 2, y: mainTitles[i].y,
      style: { text: mainTitles[i].text, fontSize: mainTitles[i].size, fontFamily: FONT, fill: '#000', align: 'center', verticalAlign: 'middle' },
    });
    graphic.push({
      type: 'text', x: GRID_LEFTS[i] + GRID_W / 2, y: 66.5,
      style: { text: 'Eff. Pop. Size Inference', fontSize: 23, fontWeight: 'bold', fontFamily: FONT, fill: '#000', align: 'center', verticalAlign: 'middle' },
    });
  });

  // annotations on panel 1
  series.push({
    type: 'custom', xAxisIndex: 0, yAxisIndex: 0, silent: true, z: 5,
    data: [credLabel],
    renderItem: (_p: any, api: any) => {
      const c1 = api.coord(credLabel);
      const c2 = api.coord(estLabel);
      return {
        type: 'group',
        children: [
          { type: 'text', x: c1[0], y: c1[1], style: { text: 'BEAST cred. intervals', fontSize: 17, fontFamily: FONT, fill: CRED_BLUE, align: 'center', verticalAlign: 'middle' } },
          { type: 'text', x: c2[0], y: c2[1], style: { text: 'BEAST estimate', fontSize: 17, fontWeight: 'bold', fontFamily: FONT, fill: BLUE, align: 'center', verticalAlign: 'middle' } },
          ...arrowEls(api.coord(credArrow[0]), api.coord(credArrow[1]), CRED_BLUE, 1, 8),
          ...arrowEls(api.coord(estArrow[0]), api.coord(estArrow[1]), BLUE, 2, 10),
        ],
      };
    },
  });

  ppcs.forEach((pts, i) => {
    const gi = 3 + i;
    const ax = ppcAxes[i];
    grid.push({ left: GRID_LEFTS[i], top: BOT_Y, width: GRID_W, height: BOT_H, show: true, borderColor: '#000', borderWidth: 1, backgroundColor: 'transparent' });
    xAxis.push({
      ...axisCommon(), gridIndex: gi, type: 'value', min: ax.xMin, max: ax.xMax,
      axisTick: { show: true, length: 7, customValues: ax.xTicks, lineStyle: { color: '#000' } },
      axisLabel: { customValues: ax.xLabels, formatter: (v: number) => v.toFixed(2), fontSize: 18, color: '#000', margin: 9, fontFamily: FONT },
      name: 'Observed', nameGap: 31,
    });
    yAxis.push({
      ...axisCommon(), gridIndex: gi, type: 'value', min: ax.yMin, max: ax.yMax,
      axisTick: { show: true, length: 7, customValues: ax.yTicks, lineStyle: { color: '#000' } },
      axisLabel: { customValues: ax.yLabels, rotate: 90, formatter: (v: number) => v.toFixed(2), fontSize: 18, color: '#000', margin: 13, fontFamily: FONT },
      name: 'Replicated', nameGap: 33,
    });
    series.push({
      type: 'scatter', xAxisIndex: gi, yAxisIndex: gi, data: pts, symbolSize: 6, silent: true, z: 2,
      itemStyle: { color: 'rgba(0,0,0,0.56)', borderWidth: 0 },
    });
    series.push({
      type: 'line', xAxisIndex: gi, yAxisIndex: gi, data: [[0, 0], [1, 1]], showSymbol: false, symbol: 'none', clip: true, silent: true, z: 3,
      lineStyle: { color: '#000', width: 1, type: [4, 4] },
    });
    graphic.push({
      type: 'text', x: GRID_LEFTS[i] + GRID_W / 2, y: 462.5,
      style: { text: 'Coalescent PPC', fontSize: 23, fontWeight: 'bold', fontFamily: FONT, fill: '#000', align: 'center', verticalAlign: 'middle' },
    });
  });

  return { animation: false, backgroundColor: '#fff', textStyle: { fontFamily: FONT }, grid, xAxis, yAxis, series, graphic };
}

export default function App() {
  const ref = useRef<HTMLDivElement>(null);
  useEffect(() => {
    const chart = echarts.init(ref.current!, null, { renderer: 'svg' });
    chart.setOption(buildOption() as any);
    return () => chart.dispose();
  }, []);
  return <div ref={ref} style={{ position: 'absolute', left: 0, top: 0, width: 1255, height: 844, background: '#fff' }} />;
}
